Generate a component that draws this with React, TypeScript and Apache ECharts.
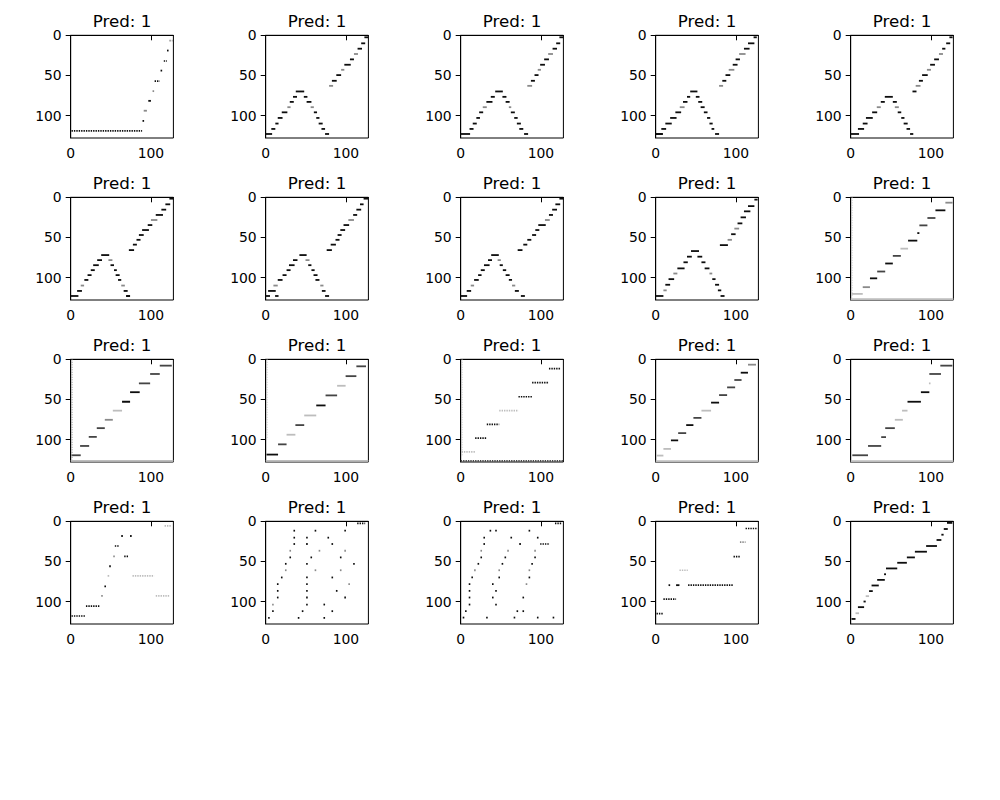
import React, { useEffect, useRef } from "react";
import * as echarts from "echarts";

// segment: [xStart, xEnd, row, shade(0 black .. 3 light), dotted(0/1)]
const P1 = [[1,89,119,0,1],[89.5,90.5,106.7,0],[91,95,94,2],[96.7,100,81.7,0],[102,103,69.6,2],[104.6,111,57,0,1],[112,113,44,0],[116,120,32,0,1],[120,121,19,0],[123,127,6.7,2,1]];
const P2 = [[0,8,123,0],[7,12,116.7,0],[12,16,110,0],[15,21,103,0],[20,27,96,0],[27,31,89.6,2],[30,35,83,0],[34,39,76.7,0],[37.5,48,70,0],[47.5,52,76.7,0],[51,57,83,0],[56,60,89.6,2],[60,64,96,0],[63,67,103,0],[66,71,110,0],[69.5,74,116.7,0],[74,79,123,0],[79,84,63,2],[82.5,88.5,56.7,0],[88,94,49.6,0],[94,98,43,2],[98,106,36.7,0],[105,110,30,0],[110,115,23.3,2],[114.5,120,16.7,0],[119,124,10,0],[123,128,2.5,0]];
const P3 = [[0,11.7,123,0],[11,16,116.7,0],[15,20,110,0],[19.5,24,103,0],[23,28,96,0],[27.5,32.5,89.6,2],[32,39.6,83,0],[37.5,42.5,76.7,0],[43,52.5,70,0],[52,57,76.7,0],[56,61,83,0],[60,63,89.6,2],[62.5,67.5,96,0],[66.7,71,103,0],[70,75,110,0],[73,78,116.7,0],[79,84,123,0],[83,89,63,2],[87.5,92.5,56.7,0],[92,97,49.6,0],[96,100,43,2],[99,105,36.7,0],[104,110,30,0],[109,115,23.3,2],[114.5,120,16.7,0],[119,124,10,0],[123,128,2.5,0]];
const P4 = [[0,9,123,0],[7,13,116.7,0],[12,20,110,0],[18,26,103,0],[24.5,31.7,96,0],[30,36,89.6,2],[34,39.6,83,0],[39,43,76.7,0],[43,52,70,0],[50,54.6,76.7,0],[53,58,83,0],[56,61,89.6,0],[60,64.6,96,0],[64,68,103,0],[67,71,110,0],[69.6,73,116.7,0],[74,79,123,0],[79,84,63,2],[83,88,56.7,0],[87,93,49.6,0],[91,98,43,2],[96,102,36.7,0],[99.6,105,30,0],[104,112,23.3,2],[110,117,16.7,0],[115,123,10,0],[122,126,2.5,0]];
const P5 = [[0,10.4,123,0],[9,16.7,116.7,0],[15,21,110,0],[19,27.5,103,0],[26.7,33,96,0],[32.5,37.5,89.6,2],[37.5,42.5,83,0],[42.5,52.5,76.7,0],[52.5,57.5,83,0],[55,60,89.6,2],[58.6,63,96,0],[63,67,103,0],[66,71,110,0],[69.6,74,116.7,0],[74,78,123,0],[77,82,70,0],[81,87,63,2],[85,90,56.7,0],[89,96,49.6,0],[95,100,43,2],[99,105,36.7,0],[104,110,30,0],[110,115,23.3,2],[114,118,16.7,0],[119,124,10,0],[123,127,2.5,0]];
const P6 = [[0,9.6,123,0],[8,14,116.7,0],[12.5,16.7,110,2],[17,22,103,0],[21,26,97,0],[25,30,90.8,0],[28,35,84.6,0],[33,39,78.3,0],[38,48,72,0],[47,52,78.3,2],[49.6,54,84.6,0],[54,57.5,90.8,0],[56,61,97,0],[59,63,103,0],[63,67.5,110,2],[66,71,116.7,0],[69,74,123,0],[72.5,79,65.8,0],[77.5,82.5,59,0],[82,87,53,0],[85,91,47,0],[89,97.5,40.8,0],[96,101.7,34.6,0],[100,108,28.3,2],[106,115,22,0],[113,119,15.4,0],[118,124,8.75,0],[123,128,1.7,0]];
const P7 = [[0,5.4,123,0],[11.7,16,123,0],[3,12.5,116.7,0],[9.6,15,110,2],[15,21,103,0],[21,26,97,0],[26,31,90.8,0],[29,36,84.6,0],[34,39.6,78.3,0],[42,51,72,0],[49.6,54.6,78.3,2],[53,57,84.6,0],[57,61,90.8,0],[59.6,64.6,97,0],[62,67,103,0],[68,72,110,2],[70,74.6,116.7,0],[74,79,123,0],[76,82.5,65.8,0],[81,87.5,59,0],[87,92,53,0],[89.6,94.6,47,0],[93,99,40.8,0],[97,104,34.6,0],[103,110,28.3,2],[109,114,22,0],[113,119,15.4,0],[117.5,122,8.75,0],[122,128,1.7,0]];
const P8 = [[0,8,123,0],[7.5,13,116.7,0],[12.5,16.7,110,2],[16.7,22.5,103,0],[21.7,26,97,0],[25,30,90.8,0],[29,36,84.6,0],[34,39,78.3,0],[38,47.5,72,0],[46,50,78.3,2],[48.6,52.5,84.6,0],[52.5,56.7,90.8,0],[56,61,97,0],[60,64,103,0],[64,68,110,2],[67.5,72.5,116.7,0],[75,80,123,0],[71,77,65.8,0],[78,83,59,0],[83,88,53,0],[89,94,47,0],[93,98,40.8,0],[96.7,106,34.6,0],[105,111,28.3,2],[110,115,22,0],[114,120,15.4,0],[118,124,8.75,0],[123,128,1.7,0]];
const P9 = [[0,9.6,123,0],[9.6,13.7,116,2],[12,18,109,0],[16,23,102,0],[22,27,95,2],[27,36,88.6,0],[34.6,40,81,0],[39,45,74,0],[44,54,67,0],[52,58,74,0],[57,62,81,0],[61,67,88.6,0],[67,70.5,95,2],[70.5,74.6,102,0],[74,79,109,0],[77.5,81.7,116,0],[80.8,85.8,123,0],[80,90,59.6,0],[89.6,95,53,2],[94,99.6,46,0],[98,104,39,2],[102,108,32.5,0],[105.8,112.5,25,0],[110,118,17.5,0],[115,123,11,0],[123,127,2.9,0]];
const P10 = [[0,128,127,3],[1,15,120.4,3],[15,24,112,2],[24,33,101,0],[33,43,92.5,1],[43,52.5,82.5,0],[52.5,62.5,73,1],[62,71.5,64,3],[71.5,83,54,0],[83,85.6,44.6,0],[85.6,95.6,35,1],[95.6,105.6,25.8,1],[105.6,118,16.25,0],[118,127,6.7,2]];
const P11 = [[0,128,126.7,3],[1,12.5,119.6,1],[11.7,23,108,1],[22.5,32.5,96.7,1],[32.5,42.5,85.8,1],[42.5,52.5,75.4,2],[52.5,64,64,3],[64,74,52.9,0],[74,86,41,0],[85,99,30,1],[99,111,18.3,1],[111,126,7.9,1]];
const P12 = [[0,128,126.7,3],[1,15.4,118.75,0],[15.4,26,106,1],[26,37,94,3],[37,48,82,1],[48,63,70,3],[63,74.6,57.5,0],[74.6,89,45,1],[89,99.6,33,3],[99.6,113,21,1],[113,125,8.75,1]];
const P13 = [[0,128,126.7,1,1],[1,18,115.4,3,1],[18,32.5,98.3,0,1],[32.5,48,81,0,1],[48,72,64,3,1],[72,89,46.7,0,1],[89,110,29,0,1],[110,125,11.7,0,1]];
const P14 = [[0,128,127,3],[1,9.6,120,3],[9.6,19,111.7,3],[19,28,101,0],[28,38,92,1],[38,47,82,0],[47,57,73,1],[57,69,64,3],[69,79,54,0],[79,89,44.6,1],[89,99,35,1],[98,107,25.8,1],[106,115,16.7,0],[115,125,6.7,2]];
const P15 = [[0,128,127,3],[2,21.6,119.6,1],[21.6,38,108,1],[38,44,97,1],[43,55,85.8,1],[55,65,75.4,3],[64,70.8,64,3],[70.8,87.5,52.9,0],[87.5,98,41,0],[97.5,99,30,3],[98,112.5,18.3,1],[111.7,126.7,7.9,1]];
const P16 = [[1,18,118,0,1],[19,36.7,105.8,0,1],[38,39.5,93,2],[42,43.5,81,0],[46,47.5,68,3],[48,49.5,56,0],[53,54.5,43.75,2],[55,61,30.8,0,1],[63,64.6,18.3,0],[74,75.6,18.3,0],[66.7,71.7,43.75,0,1],[77,104,68,3,1],[106,123,93,3,1],[117,126,5.8,3,1]];
const P17 = [[3,3,120.4,0],[8,8,112,0],[8,8,103.75,2],[14,14,95,0],[14,14,86.7,0],[14,14,78.3,0],[19,19,70,0],[24,24,61,2],[24,24,53,0],[29.6,29.6,45,0],[29.6,29.6,36.7,2],[34.6,34.6,28.3,0],[34.6,34.6,20.4,0],[34.6,34.6,11.7,0],[40,40,120.4,0],[45,45,112,0],[50.4,50.4,103.75,0],[50.4,50.4,95,0],[50.4,50.4,86.7,0],[50.4,50.4,78.3,0],[50.4,50.4,70,0],[50.4,50.4,53,0],[50.4,50.4,28.3,0],[50.4,50.4,20.4,0],[55.8,55.8,45,0],[61,61,11.7,0],[61,61,61,2],[66,66,36.7,2],[72,72,120.4,0],[72,72,103.75,0],[77,77,20.4,0],[82,82,112,0],[82,82,70,0],[82,82,28.3,0],[87.5,87.5,86.7,0],[92.5,92.5,61,2],[92.5,92.5,45,0],[98,98,95,0],[98,98,36.7,2],[98,98,11.7,0],[103,103,78.3,2],[109,109,53,0],[114,124,2.5,0,1]];
const P18 = [[2.5,2.5,120,0],[5.4,5.4,112,0],[10,10,103.75,0],[10,10,95,0],[10,10,86.7,0],[10,10,78.3,0],[13.3,13.3,70,0],[16.7,16.7,61,2],[21,21,53,0],[24.6,24.6,45,0],[24.6,24.6,36.7,2],[28.3,28.3,28.3,0],[28.3,28.3,20.4,0],[36,36,11.7,0],[43,43,11.7,0],[31.7,31.7,120,0],[39,39,95,0],[39,39,78.3,0],[43,43,86.7,0],[43,43,103.75,0],[47,47,70,0],[47,47,61,2],[51,51,53,0],[54.6,54.6,45,0],[58,58,36.7,2],[62,62,20.4,0],[73,73,28.3,0],[66,66,120,0],[69.6,69.6,112,0],[77,77,112,0],[77,77,95,0],[81,81,78.3,2],[84.6,84.6,70,0],[84.6,84.6,61,2],[84.6,84.6,11.7,0],[88,88,53,0],[91.7,91.7,45,0],[91.7,91.7,36.7,2],[95,95,20.4,0],[95,95,120,0],[114.6,114.6,120,0],[99,111,28.3,0,1],[117.5,126,2.5,0,1]];
const P19 = [[1,9.6,115,0,1],[9.6,25.4,97,0,1],[16,18,79.6,0],[25.4,29.6,79.6,0],[29.6,40,61,3,1],[40.4,97,79.6,0,1],[97,105,44,0,1],[105,112,26,2,1],[112,127,9,0,1]];
const P20 = [[1,6,121.7,0],[6,10.4,114.6,3],[9,16.7,107,0],[16,18.7,100,0],[18.7,22.9,93.3,3],[22.9,27.5,87,0],[26,35,80,0],[33,42.5,73,0],[41.6,44,66,0],[44,58,58.75,0],[58,70,51.7,0],[70,80,45,0],[80,95,37.9,0],[94,107.5,30.8,0],[107,113,23.3,0],[113,115.8,16.7,0],[116,121,9.6,0],[120,126.7,2,0]];

const PANELS = [P1,P2,P3,P4,P5,P6,P7,P8,P9,P10,P11,P12,P13,P14,P15,P16,P17,P18,P19,P20];
const TITLES = Array(20).fill("Pred: 1");
// vertical faint columns at x≈0: [panelIndex, x, yStart, yEnd, shade]
const VERTICALS = [[9,0.5,0,125,3],[10,0.5,0,125,2],[11,0.5,0,100,3],[12,0.5,0,120,3]];
const X_TICKS = [0, 100];
const Y_TICKS = [0, 50, 100];
const SHADES = ["#0d0d0d", "#444444", "#8a8a8a", "#bdbdbd"];

const FONT = "DejaVu Sans";

export default function App() {
  const ref = useRef<HTMLDivElement>(null);
  useEffect(() => {
    if (!ref.current) return;
    const chart = echarts.init(ref.current, null, { renderer: "svg" });
    const grids: any[] = [];
    const xAxes: any[] = [];
    const yAxes: any[] = [];
    const series: any[] = [];
    const graphics: any[] = [];
    const W = 102.7;
    PANELS.forEach((segs, i) => {
      const col = i % 5;
      const row = Math.floor(i / 5);
      const left = 70.7 + 195 * col;
      const top = 35.3 + 162 * row;
      grids.push({ left, top, width: W, height: W, show: true, borderColor: "#000", borderWidth: 1, backgroundColor: "#fff" });
      xAxes.push({
        gridIndex: i, type: "value", min: 0, max: 128, interval: 100,
        axisLine: { show: true, lineStyle: { color: "#000", width: 1 } }, splitLine: { show: false },
        axisTick: { show: true, length: 5, lineStyle: { color: "#000", width: 1 }, customValues: X_TICKS },
        axisLabel: { customValues: X_TICKS, color: "#000", fontSize: 13.9, fontFamily: FONT, margin: 8 },
      });
      yAxes.push({
        gridIndex: i, type: "value", min: 0, max: 128, interval: 50, inverse: true,
        axisLine: { show: true, lineStyle: { color: "#000", width: 1 } }, splitLine: { show: false },
        axisTick: { show: true, length: 5, lineStyle: { color: "#000", width: 1 }, customValues: Y_TICKS },
        axisLabel: { customValues: Y_TICKS, color: "#000", fontSize: 13.9, fontFamily: FONT, margin: 9 },
      });
      const data = segs.map((s: number[]) => [s[0], s[1], s[2], s[3] ?? 0, s[4] ?? 0]);
      series.push({
        type: "custom",
        xAxisIndex: i,
        yAxisIndex: i,
        data,
        encode: { x: [0, 1], y: 2 },
        renderItem: (params: any, api: any) => {
          const a = api.coord([api.value(0), api.value(2)]);
          const b = api.coord([api.value(1), api.value(2)]);
          const color = SHADES[api.value(3)] || "#000";
          if (api.value(4)) {
            return {
              type: "line",
              shape: { x1: a[0], y1: a[1], x2: b[0], y2: b[1] },
              style: { stroke: color, lineWidth: 1.7, lineDash: [1.4, 1.0] },
            };
          }
          return {
            type: "rect",
            shape: { x: a[0], y: a[1] - 0.9, width: Math.max(b[0] - a[0], 1.6), height: 1.8 },
            style: { fill: color },
          };
        },
      });
      const vs = VERTICALS.filter((v) => v[0] === i).map((v) => [v[1], v[2], v[3], v[4]]);
      if (vs.length) {
        series.push({
          type: "custom",
          xAxisIndex: i,
          yAxisIndex: i,
          data: vs,
          encode: { x: 0, y: [1, 2] },
          renderItem: (params: any, api: any) => {
            const a = api.coord([api.value(0), api.value(1)]);
            const b = api.coord([api.value(0), api.value(2)]);
            return {
              type: "line",
              shape: { x1: a[0] + 1, y1: a[1], x2: b[0] + 1, y2: b[1] },
              style: { stroke: SHADES[api.value(3)], lineWidth: 1, lineDash: [1, 1.5] },
            };
          },
        });
      }
      graphics.push({
        type: "text",
        x: left + W / 2,
        y: top - 14,
        style: { text: TITLES[i], fill: "#000", font: `16.7px '${FONT}'`, align: "center", verticalAlign: "middle" },
      });
    });
    chart.setOption({
      animation: false,
      backgroundColor: "#fff",
      grid: grids,
      xAxis: xAxes,
      yAxis: yAxes,
      series,
      graphic: graphics,
    });
    return () => chart.dispose();
  }, []);
  return (
    <div
      ref={ref}
      style={{ position: "fixed", left: 0, top: 0, width: 1000, height: 800, background: "#fff" }}
    />
  );
}
